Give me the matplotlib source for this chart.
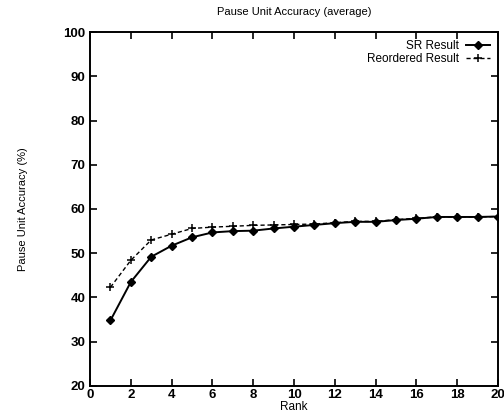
import matplotlib
matplotlib.use("Agg")
import matplotlib.pyplot as plt

plt.rcParams["font.family"] = ["Liberation Sans", "DejaVu Sans"]

# ── Data ─────────────────────────────────────────────────────────────────────
rank = list(range(1, 21))
sr_result = [34.8, 43.5, 49.2, 51.7, 53.6, 54.7, 55.0, 55.1, 55.6, 56.0,
             56.4, 56.8, 57.1, 57.1, 57.5, 57.8, 58.2, 58.2, 58.2, 58.3]
reordered = [42.3, 48.4, 53.0, 54.3, 55.6, 55.9, 56.1, 56.3, 56.4, 56.5,
             56.6, 56.9, 57.2, 57.2, 57.6, 57.9, 58.2, 58.2, 58.2, 58.3]

fig = plt.figure(figsize=(5.04, 4.19), dpi=100)
ax = fig.add_axes([0.1786, 0.0788, 0.8095, 0.8448])

ax.plot(rank, sr_result, color="black", linewidth=1.4, marker="D",
        markersize=4, label="SR Result")
ax.plot(rank, reordered, color="black", linewidth=1.0, linestyle=(0, (3, 2)),
        marker="+", markersize=6, markeredgewidth=1.1, label="Reordered Result")

ax.set_xlim(0, 20)
ax.set_ylim(20, 100)
ax.set_xticks(range(0, 21, 2))
ax.set_yticks(range(20, 101, 10))
ax.tick_params(direction="in", top=True, right=True, length=5, width=1.2,
               labelsize=9.5)
ax.tick_params(axis="x", pad=2)
for lab in ax.get_xticklabels() + ax.get_yticklabels():
    lab.set_fontweight("bold")
for s in ax.spines.values():
    s.set_linewidth(1.4)

ax.set_title("Pause Unit Accuracy (average)", fontsize=8, pad=12)
ax.set_xlabel("Rank", fontsize=8.5, labelpad=0)
ax.set_ylabel("Pause Unit Accuracy (%)", fontsize=8, labelpad=25)

ax.legend(loc="upper right", frameon=False, markerfirst=False, fontsize=8.5,
          handlelength=2.0, handletextpad=0.6, borderaxespad=0.3,
          labelspacing=0.1)

plt.savefig("out.png", dpi=100)
plt.close()
